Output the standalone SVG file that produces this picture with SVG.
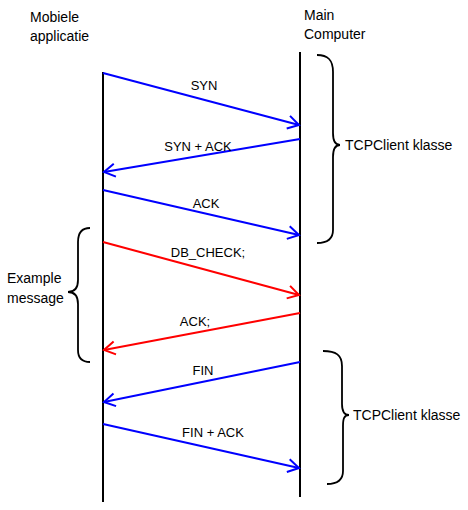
<svg xmlns="http://www.w3.org/2000/svg" width="468" height="510" viewBox="0 0 468 510">
<style>
text{font-family:"Liberation Sans",Arial,sans-serif;fill:#000}
.h{font-size:14px}
.lbl{font-size:13px;text-anchor:middle}
.life{stroke:#000;stroke-width:2;fill:none}
.b{stroke:#0000ff;stroke-width:2;fill:none;marker-end:url(#ab)}
.r{stroke:#ff0000;stroke-width:2;fill:none;marker-end:url(#ar)}
.brace{stroke:#000;stroke-width:1.8;fill:none}
</style>
<defs>
<marker id="ab" markerUnits="userSpaceOnUse" markerWidth="16" markerHeight="16" refX="12" refY="7" orient="auto" viewBox="0 0 16 14">
<path d="M1,0.5 L12,7 L1,13.5" fill="none" stroke="#0000ff" stroke-width="2"/>
</marker>
<marker id="ar" markerUnits="userSpaceOnUse" markerWidth="16" markerHeight="16" refX="12" refY="7" orient="auto" viewBox="0 0 16 14">
<path d="M1,0.5 L12,7 L1,13.5" fill="none" stroke="#ff0000" stroke-width="2"/>
</marker>
</defs>
<g id="mobiele">
<line class="life" x1="103" y1="72" x2="103" y2="502"/>
<text class="h" x="30" y="22">Mobiele</text>
<text class="h" x="30" y="41">applicatie</text>
</g>
<g id="main">
<line class="life" x1="300" y1="52" x2="300" y2="497"/>
<text class="h" x="304" y="20">Main</text>
<text class="h" x="304" y="39">Computer</text>
</g>
<g id="brace1">
<path class="brace" d="M317,55 C328,55 333,60 333,72 L333,133 C333,141 335,145 340,145 C335,145 333,149 333,157 L333,230 C333,239 328,243 317,243"/>
<text class="h" x="345" y="150">TCPClient klasse</text>
</g>
<g id="brace2">
<path class="brace" d="M323,351 C336,351 342,355 342,366 L342,404 C342,411 344,415 349,415 C344,415 343,419 343,426 L343,471 C343,480 338,484 327,484"/>
<text class="h" x="353" y="420">TCPClient klasse</text>
</g>
<g id="brace3">
<path class="brace" d="M90,228 C82,228 78,232 78,242 L78,280 C78,287 75,292 68,292 C75,292 78,297 78,304 L78,350 C78,358 82,362 90,362"/>
<text class="h" x="7" y="283">Example</text>
<text class="h" x="7" y="303">message</text>
</g>
<g id="connectors">
<line class="b" x1="103" y1="73" x2="299" y2="125"/>
<line class="b" x1="300" y1="139" x2="104" y2="172"/>
<line class="b" x1="103" y1="190" x2="299" y2="235"/>
<line class="r" x1="103" y1="242" x2="299" y2="295"/>
<line class="r" x1="300" y1="313" x2="104" y2="350"/>
<line class="b" x1="300" y1="362" x2="104" y2="402"/>
<line class="b" x1="103" y1="424" x2="299" y2="468"/>
<text class="lbl" x="204" y="90">SYN</text>
<text class="lbl" x="198" y="151">SYN + ACK</text>
<text class="lbl" x="206" y="208">ACK</text>
<text class="lbl" x="208" y="257">DB_CHECK;</text>
<text class="lbl" x="195" y="326">ACK;</text>
<text class="lbl" x="203" y="375">FIN</text>
<text class="lbl" x="213" y="437">FIN + ACK</text>
</g>
</svg>
